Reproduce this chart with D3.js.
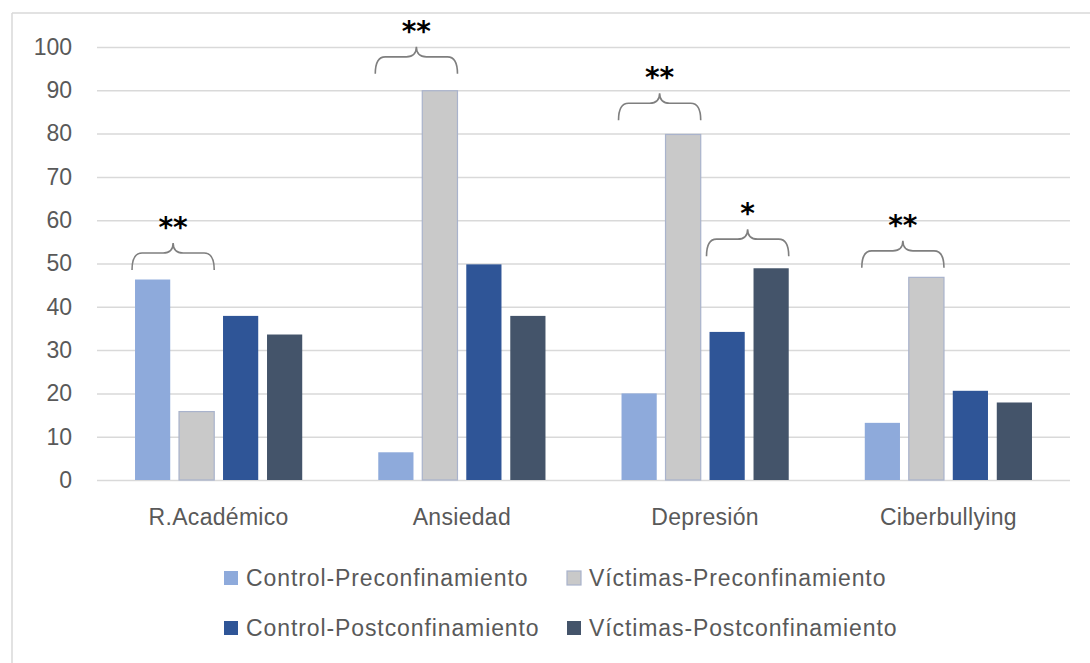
<!DOCTYPE html>
<html>
<head>
<meta charset="utf-8">
<script src="https://cdn.jsdelivr.net/npm/d3@7"></script>
<style>
  html, body { margin: 0; padding: 0; background: #ffffff; }
  svg { display: block; }
</style>
</head>
<body>
<svg id="chart" width="1090" height="663"></svg>
<script>
// ---- data ----
const categories = ["R.Académico", "Ansiedad", "Depresión", "Ciberbullying"];
const series = ["Control-Preconfinamiento", "Víctimas-Preconfinamiento", "Control-Postconfinamiento", "Víctimas-Postconfinamiento"];
const controlPre  = [46.3, 6.4, 20.0, 13.2];
const victimasPre = [15.8, 89.9, 79.8, 46.8];
const controlPost = [37.9, 49.8, 34.2, 20.6];
const victimasPost = [33.6, 37.9, 48.9, 17.9];
const yTicks = [0, 10, 20, 30, 40, 50, 60, 70, 80, 90, 100];

// significance braces
const braceCategory = ["R.Académico", "Ansiedad", "Depresión", "Depresión", "Ciberbullying"];
const braceFrom = [0, 0, 0, 2, 0];
const braceTo = [1, 1, 1, 3, 1];
const braceValue = [48.5, 93.8, 83.1, 51.7, 49.0];
const braceLabel = ["**", "**", "**", "*", "**"];

const seriesValues = [controlPre, victimasPre, controlPost, victimasPost];
const colors = ["#8eaadb", "#c9c9c9", "#2f5597", "#44546a"];
const strokes = ["none", "#a9b3cc", "none", "none"];

// ---- layout ----
const svg = d3.select("#chart");
const plotLeft = 97, plotRight = 1070, plotTop = 47, plotBottom = 480;
const textColor = "#595959";
const fontFam = "'Liberation Sans', Arial, sans-serif";

// chart border (top & left visible)
svg.append("line").attr("x1", 12).attr("x2", 1090).attr("y1", 13).attr("y2", 13)
  .attr("stroke", "#d9d9d9").attr("stroke-width", 1.5);
svg.append("line").attr("x1", 12).attr("x2", 12).attr("y1", 13).attr("y2", 663)
  .attr("stroke", "#d9d9d9").attr("stroke-width", 1.5);

const y = d3.scaleLinear().domain([0, 100]).range([plotBottom, plotTop]);
const x0 = d3.scaleBand().domain(categories).range([plotLeft, plotRight]).paddingInner(0).paddingOuter(0);
const half = x0.bandwidth() / 2;
const x1 = d3.scaleBand().domain(d3.range(series.length)).range([half - 88, half + 88])
  .paddingInner(0.2).paddingOuter(0.1);

// y axis with gridlines
const yAxis = d3.axisLeft(y).tickValues(yTicks).tickSize(-(plotRight - plotLeft)).tickPadding(25);
const gy = svg.append("g").attr("transform", `translate(${plotLeft},0)`).call(yAxis);
gy.select(".domain").remove();
gy.selectAll(".tick line").attr("stroke", "#d9d9d9").attr("stroke-width", 1.5);
gy.selectAll(".tick text").attr("fill", textColor).style("font-family", fontFam).style("font-size", "23px");

// x axis labels
const xAxis = d3.axisBottom(x0).tickSize(0).tickPadding(0);
const gx = svg.append("g").attr("transform", `translate(0,${plotBottom})`).call(xAxis);
gx.select(".domain").remove();
gx.selectAll(".tick text").attr("fill", textColor).attr("y", 37).attr("dy", "0.35em")
  .style("font-family", fontFam).style("font-size", "23px").style("letter-spacing", "0.3px");

// bars
const rows = [];
categories.forEach((c, ci) => {
  seriesValues.forEach((vals, si) => rows.push({ c, si, v: vals[ci] }));
});
svg.append("g").selectAll("rect").data(rows).join("rect")
  .attr("x", d => x0(d.c) + x1(d.si))
  .attr("width", x1.bandwidth())
  .attr("y", d => y(d.v))
  .attr("height", d => y(0) - y(d.v))
  .attr("fill", d => colors[d.si])
  .attr("stroke", d => strokes[d.si])
  .attr("stroke-width", 1.2);

// braces
function bracePath(xa, xb, yEnd) {
  const yMid = yEnd - 17, yTip = yEnd - 27, r = 10;
  const cx = (xa + xb) / 2;
  return `M${xa},${yEnd} Q${xa},${yMid} ${xa + r},${yMid} L${cx - r},${yMid} Q${cx},${yMid} ${cx},${yTip}` +
         ` Q${cx},${yMid} ${cx + r},${yMid} L${xb - r},${yMid} Q${xb},${yMid} ${xb},${yEnd}`;
}
const braces = braceCategory.map((c, i) => ({
  xa: x0(c) + x1(braceFrom[i]) - 3,
  xb: x0(c) + x1(braceTo[i]) + x1.bandwidth(),
  yEnd: y(braceValue[i]),
  label: braceLabel[i]
}));
const gb = svg.append("g");
gb.selectAll("path").data(braces).join("path")
  .attr("d", d => bracePath(d.xa, d.xb, d.yEnd))
  .attr("fill", "none").attr("stroke", "#7f7f7f").attr("stroke-width", 1.6);
gb.selectAll("text").data(braces).join("text")
  .attr("x", d => (d.xa + d.xb) / 2)
  .attr("y", d => d.yEnd - 49)
  .attr("dy", "0.58em")
  .attr("text-anchor", "middle")
  .attr("fill", "#000000")
  .style("font-family", "'DejaVu Sans', sans-serif")
  .style("font-weight", "bold")
  .style("font-size", "28px")
  .text(d => d.label);

// legend (2 x 2)
const legendCols = [224, 567];
const legendRows = [578, 628];
const gl = svg.append("g");
series.forEach((s, i) => {
  const lx = legendCols[i % 2], ly = legendRows[Math.floor(i / 2)];
  gl.append("rect").attr("x", lx).attr("y", ly - 7).attr("width", 14).attr("height", 14)
    .attr("fill", colors[i]).attr("stroke", strokes[i]).attr("stroke-width", 1.2);
  gl.append("text").attr("x", lx + 22).attr("y", ly).attr("dy", "0.35em")
    .attr("fill", textColor).style("font-family", fontFam).style("font-size", "23px")
    .style("letter-spacing", "0.9px").text(s);
});
</script>
</body>
</html>
